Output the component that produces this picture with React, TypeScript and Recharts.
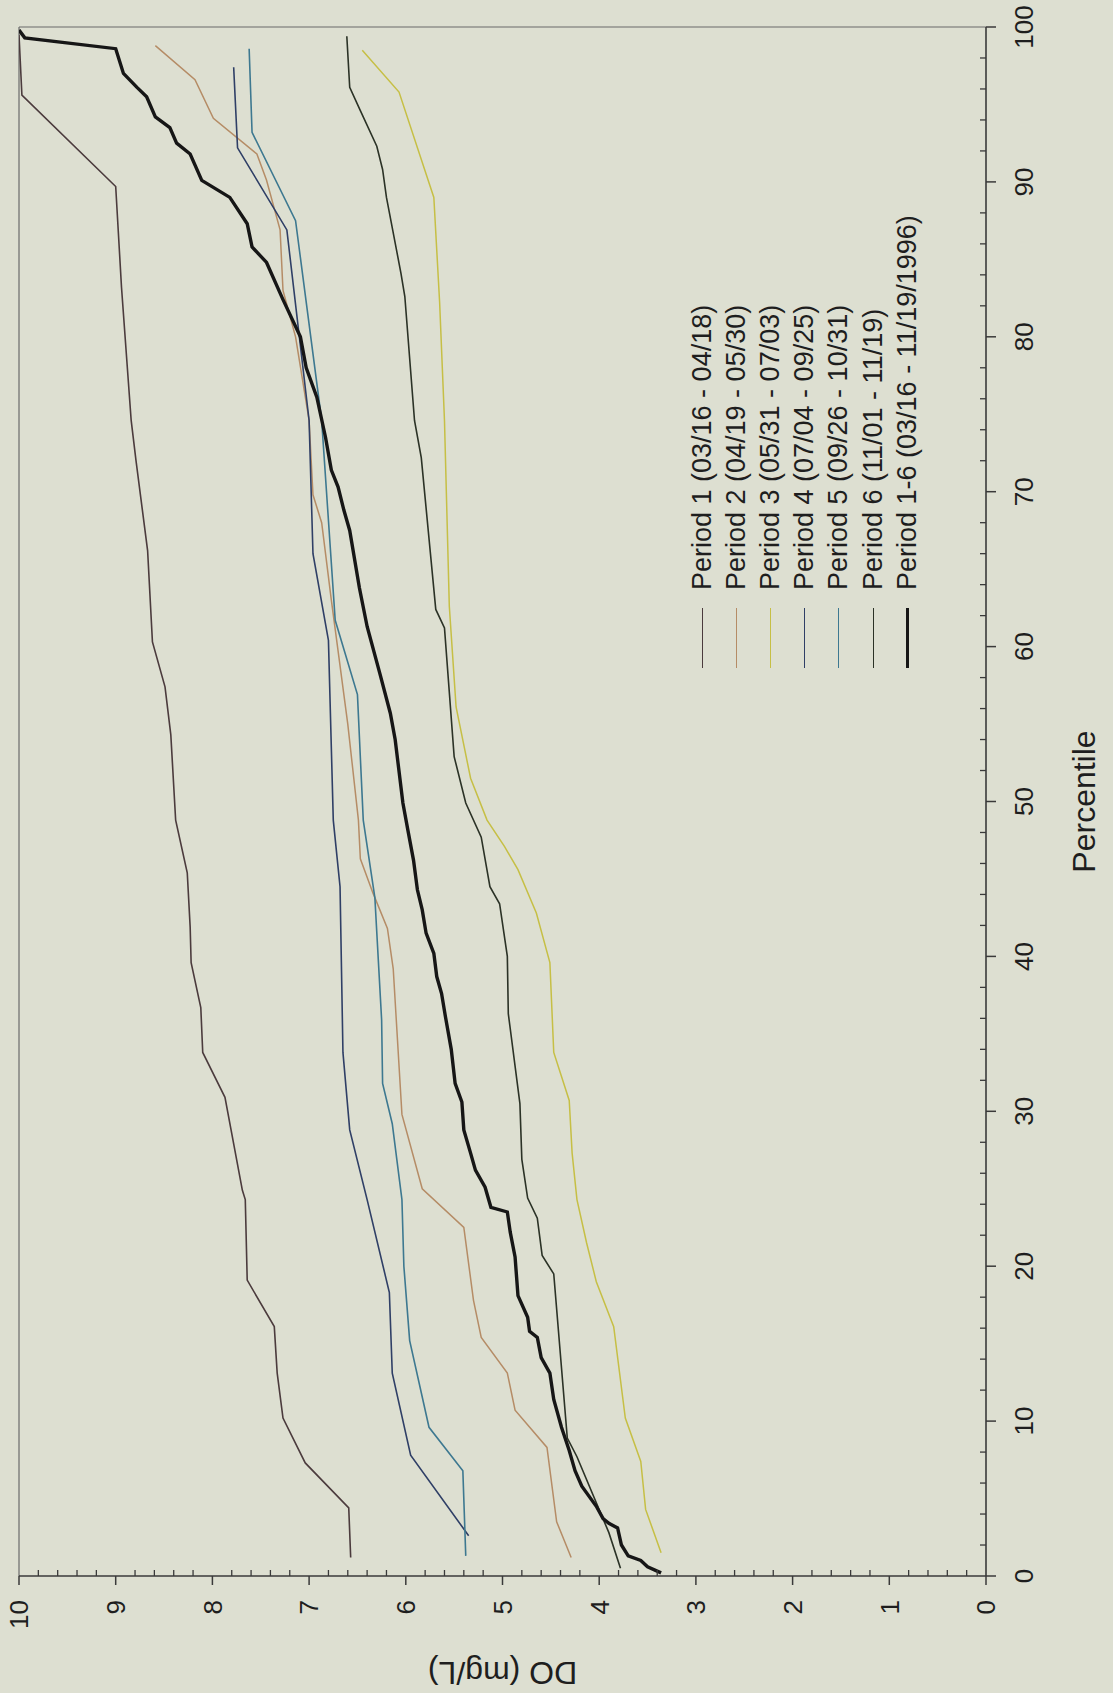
import React from 'react';
import { LineChart, Line, XAxis, YAxis, Legend, ReferenceLine, Label } from 'recharts';

// percentile / DO (mg/L) pairs
const PERIOD_1 = [
  [1.2, 6.57], [4.4, 6.59], [7.3, 7.04], [10.2, 7.27], [13.1, 7.33], [16.1, 7.36], [19.1, 7.64],
  [24.3, 7.66], [24.9, 7.69], [30.9, 7.87], [33.8, 8.1], [36.7, 8.12], [39.6, 8.22], [41.9, 8.23],
  [45.4, 8.26], [48.8, 8.38], [54.3, 8.43], [57.4, 8.49], [60.3, 8.62], [66.2, 8.67], [72.0, 8.79],
  [74.6, 8.84], [83.2, 8.94], [89.7, 9.0], [95.6, 9.97], [99.5, 10],
];
const PERIOD_2 = [
  [1.2, 4.29], [3.5, 4.44], [8.3, 4.54], [10.7, 4.87], [13.1, 4.95], [15.4, 5.22], [17.8, 5.3],
  [22.5, 5.4], [25.0, 5.83], [29.8, 6.04], [39.2, 6.13], [41.8, 6.19], [44.1, 6.34], [46.3, 6.47],
  [48.8, 6.49], [55.0, 6.6], [63.0, 6.77], [68.0, 6.87], [69.8, 6.96], [74.6, 7.0], [80.0, 7.14],
  [83.0, 7.27], [86.9, 7.3], [90.1, 7.44], [91.8, 7.54], [94.1, 7.99], [96.6, 8.18], [98.8, 8.59],
];
const PERIOD_3 = [
  [1.5, 3.36], [4.3, 3.52], [7.4, 3.57], [10.2, 3.73], [16.1, 3.85], [19.0, 4.03], [21.5, 4.13],
  [24.3, 4.23], [27.3, 4.28], [30.7, 4.31], [33.8, 4.47], [39.6, 4.51], [42.8, 4.65], [45.6, 4.84],
  [47.1, 4.98], [48.8, 5.16], [51.5, 5.33], [56.1, 5.48], [62.6, 5.55], [74.6, 5.6], [82.2, 5.65],
  [89.0, 5.71], [95.8, 6.07], [98.5, 6.45],
];
const PERIOD_4 = [
  [2.6, 5.35], [7.8, 5.95], [13.1, 6.14], [18.3, 6.17], [24.3, 6.4], [28.8, 6.58], [33.8, 6.65],
  [44.5, 6.68], [48.8, 6.75], [60.4, 6.8], [66.0, 6.96], [74.6, 7.0], [86.9, 7.23], [92.2, 7.74],
  [97.4, 7.78],
];
const PERIOD_5 = [
  [1.3, 5.38], [6.8, 5.41], [9.6, 5.76], [15.2, 5.96], [20.0, 6.02], [24.3, 6.04], [29.2, 6.14],
  [31.8, 6.24], [35.9, 6.25], [43.8, 6.32], [48.8, 6.44], [56.9, 6.5], [61.7, 6.73], [74.6, 6.87],
  [87.5, 7.14], [93.2, 7.59], [98.6, 7.62],
];
const PERIOD_6 = [
  [0.5, 3.78], [2.8, 3.9], [7.7, 4.23], [8.9, 4.33], [19.5, 4.47], [20.7, 4.59], [23.1, 4.64],
  [24.4, 4.74], [26.9, 4.8], [30.5, 4.82], [36.3, 4.94], [40.0, 4.95], [43.4, 5.03], [44.5, 5.13],
  [47.7, 5.22], [49.9, 5.38], [52.9, 5.5], [61.2, 5.6], [62.4, 5.69], [72.2, 5.84], [74.6, 5.91],
  [82.6, 6.01], [84.1, 6.05], [89.0, 6.2], [90.8, 6.24], [92.3, 6.3], [94.6, 6.47], [96.1, 6.58],
  [99.4, 6.61],
];
const PERIOD_ALL = [
  [0.2, 3.36], [0.6, 3.5], [1.0, 3.57], [1.3, 3.7], [2.0, 3.77], [3.1, 3.81], [3.4, 3.9], [3.7, 3.96],
  [4.5, 4.03], [5.8, 4.18], [6.8, 4.25], [8.1, 4.31], [9.6, 4.39], [11.4, 4.47], [13.1, 4.51],
  [14.1, 4.6], [15.4, 4.64], [15.8, 4.72], [16.7, 4.74], [18.1, 4.84], [20.6, 4.87], [22.2, 4.92],
  [23.5, 4.95], [23.8, 5.12], [25.1, 5.18], [26.2, 5.28], [27.3, 5.33], [28.8, 5.4], [30.6, 5.42],
  [31.8, 5.49], [34.0, 5.53], [36.1, 5.59], [37.6, 5.63], [38.7, 5.68], [40.2, 5.71], [41.5, 5.79],
  [43.0, 5.83], [44.3, 5.88], [46.2, 5.92], [48.2, 5.98], [49.9, 6.03], [54.0, 6.11], [55.7, 6.16],
  [58.3, 6.27], [61.3, 6.4], [63.8, 6.48], [67.5, 6.58], [68.8, 6.64], [70.3, 6.7], [71.4, 6.77],
  [73.5, 6.83], [76.1, 6.92], [78.0, 7.03], [80.0, 7.09], [82.4, 7.27], [84.8, 7.44], [85.8, 7.59],
  [87.3, 7.64], [89.0, 7.82], [90.1, 8.11], [91.8, 8.23], [92.5, 8.37], [93.5, 8.44], [94.2, 8.59],
  [95.5, 8.68], [96.1, 8.78], [97.0, 8.92], [98.6, 9.0], [99.3, 9.94], [99.8, 10],
];

const PCT_LABELS = [0, 10, 20, 30, 40, 50, 60, 70, 80, 90, 100];
const DO_LABELS = [0, 1, 2, 3, 4, 5, 6, 7, 8, 9, 10];

const SERIES = [
  { name: 'Period 1 (03/16 - 04/18)', points: PERIOD_1, color: '#4b3b3d', width: 1.6 },
  { name: 'Period 2 (04/19 - 05/30)', points: PERIOD_2, color: '#b58c66', width: 1.5 },
  { name: 'Period 3 (05/31 - 07/03)', points: PERIOD_3, color: '#c6bf45', width: 1.5 },
  { name: 'Period 4 (07/04 - 09/25)', points: PERIOD_4, color: '#2f3f66', width: 1.6 },
  { name: 'Period 5 (09/26 - 10/31)', points: PERIOD_5, color: '#3d7890', width: 1.6 },
  { name: 'Period 6 (11/01 - 11/19)', points: PERIOD_6, color: '#2b3226', width: 1.6 },
  { name: 'Period 1-6 (03/16 - 11/19/1996)', points: PERIOD_ALL, color: '#161616', width: 3.4 },
];

// minor tick every 2 percentile / 0.2 mg/L, labels only on the majors
const PCT_TICKS = Array.from({ length: 51 }, (_, i) => i * 2);
const DO_TICKS = Array.from({ length: 51 }, (_, i) => Math.round(i * 2) / 10);

const W = 1693;
const H = 1113;
const BG = '#dddfd1';
const AXIS = '#3a3a3a';
const TEXT = '#1e1e1e';
const FONT = '"Liberation Sans", Arial, sans-serif';

const isMajor = (v: number, step: number) => Math.abs(v / step - Math.round(v / step)) < 1e-6;

function PctTick({ x, y, payload }: any) {
  const v = payload.value;
  const major = isMajor(v, 10) && PCT_LABELS.includes(Math.round(v));
  return (
    <g>
      {major ? (
        <line x1={x} y1={y} x2={x} y2={y + 10} stroke={AXIS} strokeWidth={1.5} />
      ) : (
        <line x1={x} y1={y} x2={x} y2={y - 6} stroke={AXIS} strokeWidth={1.3} />
      )}
      {major && (
        <text x={x} y={y + 47} textAnchor="middle" fontSize={26} fill={TEXT} fontFamily={FONT}>
          {Math.round(v)}
        </text>
      )}
    </g>
  );
}

function DoTick({ x, y, payload }: any) {
  const v = payload.value;
  const major = isMajor(v, 1) && DO_LABELS.includes(Math.round(v));
  return (
    <g>
      {major ? (
        <line x1={x} y1={y} x2={x - 9} y2={y} stroke={AXIS} strokeWidth={1.5} />
      ) : (
        <line x1={x} y1={y} x2={x + 6} y2={y} stroke={AXIS} strokeWidth={1.3} />
      )}
      {major && (
        <text x={x - 24} y={y} dy="0.36em" textAnchor="end" fontSize={26} fill={TEXT} fontFamily={FONT}>
          {Math.round(v)}
        </text>
      )}
    </g>
  );
}

function renderLegend(props: any) {
  const { payload = [] } = props;
  // keep the series order instead of the alphabetical default
  const order = (e: any) => SERIES.findIndex((d) => d.name === e.value);
  const items = [...payload].sort((a: any, b: any) => order(a) - order(b));
  return (
    <div style={{ fontFamily: FONT }}>
      {items.map((entry: any) => {
        const s = SERIES.find((d) => d.name === entry.value);
        return (
          <div key={entry.value} style={{ display: 'flex', alignItems: 'center', height: 34.2 }}>
            <span
              style={{
                display: 'inline-block',
                width: 60,
                borderTop: `${s ? s.width : 1.5}px solid ${entry.color}`,
              }}
            />
            <span style={{ marginLeft: 18, fontSize: 27, color: TEXT, whiteSpace: 'nowrap', lineHeight: 1 }}>
              {entry.value}
            </span>
          </div>
        );
      })}
    </div>
  );
}

export default function App() {
  return (
    <div
      style={{
        position: 'absolute',
        left: 0,
        top: 0,
        width: H,
        height: W,
        background: BG,
        overflow: 'hidden',
      }}
    >
      {/* the scan shows the figure turned a quarter turn counter-clockwise */}
      <div
        style={{
          position: 'absolute',
          left: 0,
          top: 0,
          width: W,
          height: H,
          transformOrigin: '0 0',
          transform: `translateY(${W}px) rotate(-90deg)`,
        }}
      >
        <LineChart width={W} height={H} margin={{ top: 19, right: 27, left: 0, bottom: 0 }}>
          <XAxis
            type="number"
            dataKey="p"
            domain={[0, 100]}
            ticks={PCT_TICKS}
            interval={0}
            allowDataOverflow
            height={127}
            tickSize={0}
            tickMargin={0}
            tickLine={false}
            tick={PctTick}
            axisLine={{ stroke: AXIS, strokeWidth: 1.6 }}
          >
            <Label
              content={({ viewBox }: any) => (
                <text
                  x={viewBox.x + viewBox.width / 2}
                  y={viewBox.y + 109}
                  textAnchor="middle"
                  fontSize={32}
                  fill={TEXT}
                  fontFamily={FONT}
                >
                  Percentile
                </text>
              )}
            />
          </XAxis>
          <YAxis
            type="number"
            domain={[0, 10]}
            ticks={DO_TICKS}
            interval={0}
            allowDataOverflow
            width={117}
            tickSize={0}
            tickMargin={0}
            tickLine={false}
            tick={DoTick}
            axisLine={{ stroke: AXIS, strokeWidth: 1.6 }}
          >
            <Label
              content={({ viewBox }: any) => (
                <text
                  transform={`translate(31, ${viewBox.y + viewBox.height / 2}) rotate(-90)`}
                  textAnchor="middle"
                  fontSize={32}
                  fill={TEXT}
                  fontFamily={FONT}
                >
                  DO (mg/L)
                </text>
              )}
            />
          </YAxis>
          <ReferenceLine y={10} stroke="#6b6b6b" strokeWidth={1.2} />
          <ReferenceLine x={100} stroke="#6b6b6b" strokeWidth={1.2} />
          {SERIES.map((s) => (
            <Line
              key={s.name}
              name={s.name}
              data={s.points.map(([p, v]) => ({ p, v }))}
              dataKey="v"
              type="linear"
              stroke={s.color}
              strokeWidth={s.width}
              dot={false}
              activeDot={false}
              isAnimationActive={false}
            />
          ))}
          <Legend
            layout="vertical"
            align="center"
            verticalAlign="middle"
            content={renderLegend}
            wrapperStyle={{ left: 1025, top: 685, width: 460 }}
          />
        </LineChart>
      </div>
    </div>
  );
}
